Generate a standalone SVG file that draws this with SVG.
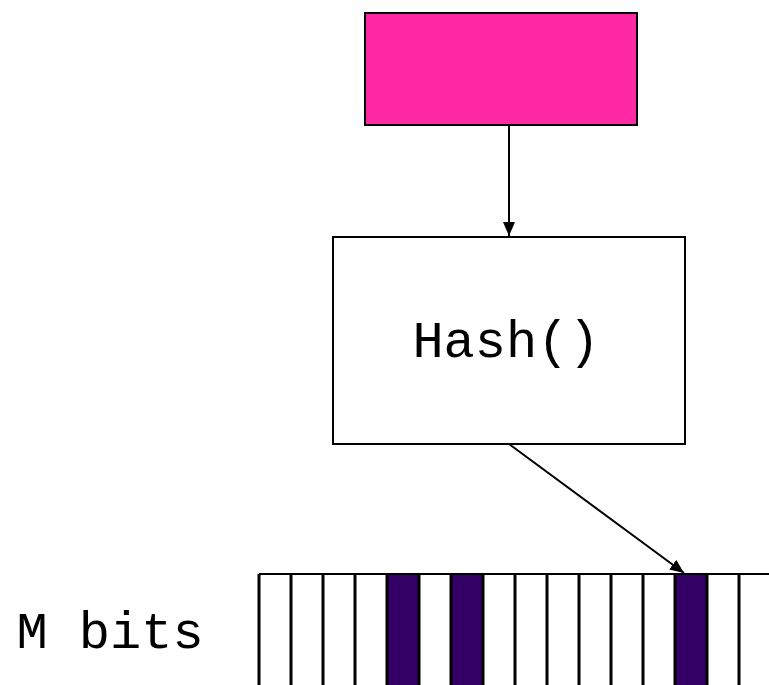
<svg xmlns="http://www.w3.org/2000/svg" width="769" height="685" viewBox="0 0 769 685">
  <style>
    .box { stroke: #000; stroke-width: 2; }
    .edge { stroke: #000; stroke-width: 2; fill: none; }
    .bit { stroke: #000; stroke-width: 3; }
    .set { fill: #330066; }
    .lbl { font-family: "Liberation Mono", "Courier New", monospace; font-size: 52px; fill: #000; }
  </style>
  <defs>
    <marker id="arrow" viewBox="0 0 14 12" refX="14" refY="6" markerWidth="14" markerHeight="12" markerUnits="userSpaceOnUse" orient="auto">
      <path d="M0,0 L14,6 L0,12 z" fill="#000"/>
    </marker>
  </defs>

  <g id="input">
    <rect class="box" x="365" y="13" width="272" height="112" fill="#FF29A5"/>
  </g>

  <g id="hash">
    <rect class="box" x="333" y="237" width="352" height="207" fill="#fff"/>
    <text class="lbl" x="506" y="357" text-anchor="middle">Hash()</text>
  </g>

  <g id="bits">
    <text class="lbl" x="110" y="648" text-anchor="middle">M bits</text>
    <rect class="set" x="387" y="574" width="32" height="111"/>
    <rect class="set" x="451" y="574" width="32" height="111"/>
    <rect class="set" x="675" y="574" width="32" height="111"/>
    <line class="box" x1="259" y1="574" x2="769" y2="574"/>
    <g class="bit">
      <line x1="259" y1="574" x2="259" y2="685"/>
      <line x1="291" y1="574" x2="291" y2="685"/>
      <line x1="323" y1="574" x2="323" y2="685"/>
      <line x1="355" y1="574" x2="355" y2="685"/>
      <line x1="387" y1="574" x2="387" y2="685"/>
      <line x1="419" y1="574" x2="419" y2="685"/>
      <line x1="451" y1="574" x2="451" y2="685"/>
      <line x1="483" y1="574" x2="483" y2="685"/>
      <line x1="515" y1="574" x2="515" y2="685"/>
      <line x1="547" y1="574" x2="547" y2="685"/>
      <line x1="579" y1="574" x2="579" y2="685"/>
      <line x1="611" y1="574" x2="611" y2="685"/>
      <line x1="643" y1="574" x2="643" y2="685"/>
      <line x1="675" y1="574" x2="675" y2="685"/>
      <line x1="707" y1="574" x2="707" y2="685"/>
      <line x1="739" y1="574" x2="739" y2="685"/>
    </g>
  </g>

  <g id="connectors">
    <line class="edge" x1="509" y1="125" x2="509" y2="236" marker-end="url(#arrow)"/>
    <line class="edge" x1="509" y1="444" x2="684" y2="573" marker-end="url(#arrow)"/>
  </g>
</svg>
